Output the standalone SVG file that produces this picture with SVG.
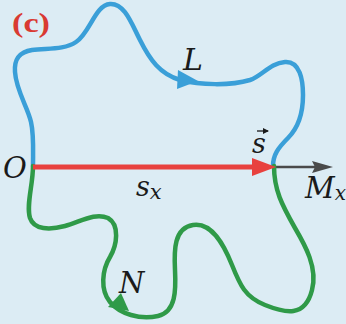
<svg xmlns="http://www.w3.org/2000/svg" width="346" height="324" viewBox="0 0 346 324">
<defs>
<style>
.bg{fill:#dcecf4}
.blue{fill:none;stroke:#3a9fd8;stroke-width:4.5;stroke-linecap:round;stroke-linejoin:round}
.green{fill:none;stroke:#2f9a48;stroke-width:4.5;stroke-linecap:round;stroke-linejoin:round}
.m{font-family:"DejaVu Serif","Liberation Serif",serif;font-style:italic;fill:#1a1a1a}
.lab{font-family:"Liberation Serif","Times New Roman",serif;font-weight:bold;fill:#d93a32}
</style>
<marker id="acc" viewBox="0 0 6 6" refX="5" refY="3" markerWidth="6" markerHeight="6" markerUnits="userSpaceOnUse" orient="auto">
<path d="M0,0 L6,3 L0,6 Z" fill="#1a1a1a"/>
</marker>
</defs>
<rect class="bg" x="0" y="0" width="346" height="324"/>
<g id="connectors">
<g id="axis">
<line x1="272" y1="167" x2="316" y2="167" stroke="#4a4a4a" stroke-width="2.5"/>
<polygon points="312,161 333,167 312,173 315,167" fill="#4a4a4a"/>
</g>
<g id="path-L">
<path class="blue" d="M 33,166 C 33,150 34,135 31,122 C 28,108 16,90 15,72 C 14,58 20,52 32,50 C 48,48 64,50 76,42 C 90,33 95,5 110,4 C 125,3 132,25 140,40 C 150,60 160,74 180,80 C 200,85 230,86 250,80 C 262,76 270,63 285,62 C 300,61 303,80 303,95 C 303,115 298,128 288,138 C 278,148 273,155 273,166"/>
<polygon points="178,70 198,81 177,89" fill="#3a9fd8"/>
</g>
<g id="path-N">
<path class="green" d="M 33,166 C 33,185 26,205 30,218 C 34,230 50,230 65,226 C 80,222 95,212 108,218 C 120,225 117,245 110,257 C 102,270 100,290 110,302 C 120,314 140,320 158,316 C 176,312 176,290 175,270 C 174,250 174,228 193,225 C 212,222 224,245 232,265 C 240,285 245,297 265,305 C 285,313 305,318 312,290 C 318,268 305,245 295,228 C 282,205 274,190 274,166"/>
<polygon points="121,293 108,307 129,311" fill="#2f9a48"/>
</g>
<g id="vector-s">
<line x1="33" y1="167" x2="256" y2="167" stroke="#e8413e" stroke-width="5"/>
<polygon points="252,158 276,167 252,176" fill="#e8413e"/>
</g>
</g>
<g id="labels">
<text class="lab" x="12" y="32" font-size="28" textLength="38" lengthAdjust="spacingAndGlyphs">(c)</text>
<text class="m" x="3" y="178" font-size="29">O</text>
<text class="m" x="183" y="70" font-size="30">L</text>
<text class="m" x="252" y="153" font-size="27">s</text>
<line x1="257" y1="131" x2="268" y2="131" stroke="#1a1a1a" stroke-width="1.3" marker-end="url(#acc)"/>
<text class="m" x="136" y="196" font-size="27">s<tspan font-size="21" dy="3">x</tspan></text>
<text class="m" x="305" y="198" font-size="29">M<tspan font-size="20" dy="2">x</tspan></text>
<text class="m" x="119" y="293" font-size="29">N</text>
</g>
</svg>
